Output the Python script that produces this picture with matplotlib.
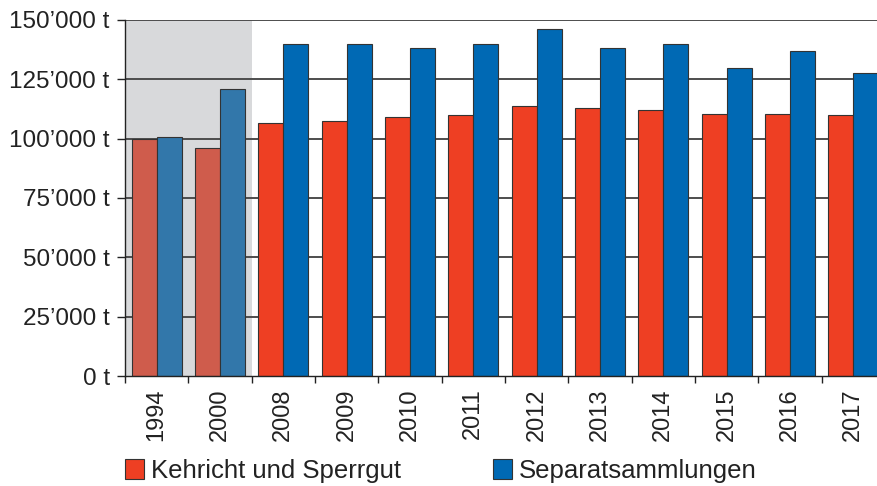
import matplotlib
matplotlib.use("Agg")
import matplotlib.pyplot as plt
from matplotlib.patches import Patch
import numpy as np

plt.rcParams['font.family'] = ['Liberation Sans', 'DejaVu Sans']

# ---- data ----
years = ['1994', '2000', '2008', '2009', '2010', '2011', '2012', '2013', '2014', '2015', '2016', '2017']
kehricht = [100000, 96000, 106700, 107400, 109100, 109800, 113600, 112900, 112200, 110500, 110500, 109800]
separat = [100700, 120800, 140000, 140000, 138300, 140000, 146100, 138300, 140000, 129900, 136800, 127700]
n_historic = 2  # first two years shaded
y_ticks = [0, 25000, 50000, 75000, 100000, 125000, 150000]
y_ticklabels = ['0 t', '25’000 t', '50’000 t', '75’000 t', '100’000 t', '125’000 t', '150’000 t']
series_names = ['Kehricht und Sperrgut', 'Separatsammlungen']

# ---- style ----
red = '#ee3f23'
blue = '#0069b4'
red_old = '#cf5c4c'
blue_old = '#3277aa'
shade = '#d8d9db'
edge = '#333333'

W, H = 878, 486
fig = plt.figure(figsize=(W / 100, H / 100), dpi=100)
ax = fig.add_axes([125 / W, 110 / H, 760 / W, 356 / H])

x = np.arange(len(years))
bw = 0.395
red_cols = [red_old if i < n_historic else red for i in range(len(years))]
blue_cols = [blue_old if i < n_historic else blue for i in range(len(years))]

ax.axvspan(-0.5, n_historic - 0.5, color=shade, zorder=0, lw=0)
for yv in y_ticks[1:]:
    ax.axhline(yv, color='#4d4d4d', lw=1.4, zorder=1)

ax.bar(x - bw / 2, kehricht, width=bw, color=red_cols, edgecolor=edge, linewidth=0.8, zorder=3)
ax.bar(x + bw / 2, separat, width=bw, color=blue_cols, edgecolor=edge, linewidth=0.8, zorder=3)

ax.set_xlim(-0.5, len(years) - 0.5)
ax.set_ylim(0, 150000)

for s in ['top', 'right']:
    ax.spines[s].set_visible(False)
for s in ['left', 'bottom']:
    ax.spines[s].set_color('#222222')
    ax.spines[s].set_linewidth(1.0)
    ax.spines[s].set_zorder(4)

ax.set_yticks(y_ticks)
ax.set_yticklabels(y_ticklabels, fontsize=17.5, color='#222222')
ax.tick_params(axis='y', length=6, width=1.0, color='#222222', pad=5)

ax.set_xticks(x)
ax.set_xticklabels(years, rotation=90, fontsize=17, color='#222222', va='top')
ax.tick_params(axis='x', which='major', length=0, pad=9)
ax.set_xticks(np.arange(len(years) + 1) - 0.5, minor=True)
ax.tick_params(axis='x', which='minor', length=5, width=1.0, color='#222222')

fs = 18.5
fpx = fs * 100 / 72
h1 = Patch(facecolor=red, edgecolor=edge, linewidth=0.8)
h2 = Patch(facecolor=blue, edgecolor=edge, linewidth=0.8)
common = dict(loc='center left', frameon=False, borderpad=0, borderaxespad=0,
              handlelength=19 / fpx, handleheight=20 / fpx, handletextpad=7 / fpx,
              prop={'size': fs})
leg1 = fig.legend([h1], [series_names[0]], bbox_to_anchor=(125 / W, (H - 471) / H), **common)
leg2 = fig.legend([h2], [series_names[1]], bbox_to_anchor=(493 / W, (H - 471) / H), **common)
for lg in (leg1, leg2):
    for t in lg.get_texts():
        t.set_color('#222222')

fig.savefig('out.png', dpi=100)
